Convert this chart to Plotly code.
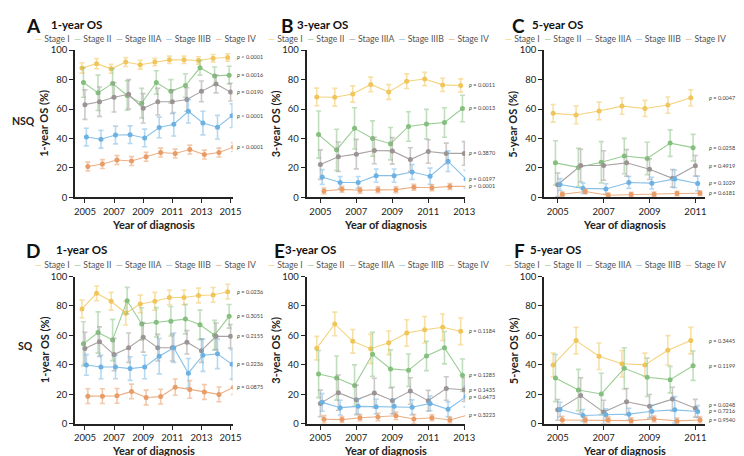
import plotly.graph_objects as go

W, H = 744, 456

stages = ["Stage I", "Stage II", "Stage IIIA", "Stage IIIB", "Stage IV"]
line_colors = ["#F5D27A", "#9ACD94", "#A9A3A3", "#86C0E8", "#EDAE82"]
marker_colors = ["#F0C65C", "#84BF7E", "#9C9494", "#6DB1E2", "#E89D69"]
err_colors = ["rgba(240,198,92,0.55)", "rgba(132,191,126,0.5)", "rgba(156,148,148,0.5)",
              "rgba(109,177,226,0.5)", "rgba(232,157,105,0.55)"]

years_1y = [2005, 2006, 2007, 2008, 2009, 2010, 2011, 2012, 2013, 2014, 2015]
years_3y = [2005, 2006, 2007, 2008, 2009, 2010, 2011, 2012, 2013]
years_5y = [2005, 2006, 2007, 2008, 2009, 2010, 2011]

# A: NSQ 1-year OS (%), one list per stage
os_a = [
    [87.9, 90.8, 87.3, 91.9, 90.1, 91.9, 93.4, 93.4, 93.0, 94.5, 95.0],
    [78.0, 71.0, 77.4, 69.2, 64.0, 78.0, 72.0, 76.0, 88.0, 82.5, 83.0],
    [63.0, 65.0, 68.0, 70.0, 60.5, 65.0, 65.0, 66.5, 72.0, 77.0, 71.5],
    [41.0, 39.5, 42.4, 42.6, 40.4, 47.5, 49.7, 58.5, 50.5, 47.7, 55.5],
    [21.0, 22.7, 25.4, 24.7, 27.6, 30.5, 29.8, 32.5, 29.1, 30.5, 34.2],
]
err_a = [
    [3.5, 3.5, 3, 3, 3, 2.5, 2.5, 2.5, 2.5, 2.5, 2.5],
    [10, 12, 10, 10, 10, 8, 8, 8, 5, 6, 6],
    [10, 10, 10, 10, 10, 9, 8, 8, 7, 6, 6],
    [6, 6, 6, 6, 6, 7, 8, 8, 8, 8, 8],
    [3, 3, 3, 3, 3, 3, 3, 3, 3, 3, 3],
]
p_a = ["< 0.0001", "= 0.0016", "= 0.0190", "< 0.0001", "< 0.0001"]

# B: NSQ 3-year OS (%)
os_b = [
    [68.2, 68.0, 70.2, 76.7, 71.6, 78.9, 80.4, 76.4, 76.0],
    [42.7, 32.3, 46.9, 40.0, 36.5, 48.2, 49.8, 50.9, 60.4],
    [22.3, 27.6, 29.4, 31.9, 31.6, 25.7, 31.2, 29.9, 29.9],
    [13.9, 10.2, 10.2, 14.8, 14.8, 17.3, 14.4, 24.6, 12.4],
    [4.4, 5.5, 4.9, 5.3, 5.3, 6.9, 6.6, 7.5, 7.5],
]
err_b = [
    [6, 6, 5.5, 5, 5, 5, 4.5, 4.5, 4.5],
    [16, 14, 14, 12, 11, 10, 10, 10, 9],
    [10, 10, 10, 9, 9, 8, 8, 7, 8],
    [5, 4, 4, 4.5, 4.5, 5, 5.5, 7, 6],
    [2, 2, 2, 2, 2, 2, 2, 2, 2],
]
p_b = ["= 0.0011", "= 0.0013", "= 0.3870", "= 0.0197", "< 0.0001"]

# C: NSQ 5-year OS (%)
os_c = [
    [57.1, 56.0, 58.7, 62.0, 60.4, 62.7, 67.6],
    [23.5, 20.4, 23.9, 28.1, 26.5, 36.9, 33.8],
    [8.6, 21.7, 21.7, 23.5, 19.2, 13.0, 21.5],
    [8.8, 6.2, 5.8, 10.2, 9.7, 12.6, 9.5],
    [2.2, 4.0, 1.5, 2.0, 2.2, 2.7, 2.9],
]
err_c = [
    [6, 6, 6, 5.5, 5.5, 5.5, 5.5],
    [15, 13, 14, 12, 11, 9, 9],
    [8, 11, 10, 9, 7, 6, 7],
    [4, 3.5, 3.5, 4, 4, 6, 5],
    [1.5, 1.5, 1.5, 1.5, 1.5, 1.5, 1.5],
]
p_c = ["= 0.0047", "= 0.0258", "= 0.4919", "= 0.1029", "= 0.6181"]

# D: SQ 1-year OS (%)
os_d = [
    [78.0, 88.6, 83.2, 75.1, 81.4, 83.2, 85.8, 85.8, 87.1, 87.5, 89.7],
    [54.3, 62.0, 56.9, 83.6, 67.8, 68.9, 69.6, 71.1, 67.2, 60.2, 73.0],
    [51.2, 55.8, 47.0, 51.7, 58.7, 51.7, 51.7, 55.4, 49.7, 59.4, 59.4],
    [40.0, 38.6, 38.6, 37.5, 38.6, 45.9, 51.7, 34.4, 46.6, 47.5, 40.4],
    [18.8, 18.8, 19.0, 22.0, 17.9, 18.5, 24.9, 23.4, 21.6, 20.0, 24.9],
]
err_d = [
    [6, 5, 6, 8, 6, 6, 5, 5, 5, 5, 5],
    [15, 14, 14, 9, 11, 10, 10, 10, 10, 10, 8],
    [11, 10, 11, 10, 10, 9, 9, 8, 8, 9, 8],
    [7, 8, 8, 8, 8, 12, 10, 10, 11, 10, 10],
    [5, 5, 5, 5, 5, 5, 5.5, 6, 5, 5, 5],
]
p_d = ["= 0.0236", "= 0.3051", "= 0.2155", "= 0.2236", "= 0.0875"]

# E: SQ 3-year OS (%)
os_e = [
    [51.4, 67.8, 56.0, 51.0, 55.0, 61.7, 63.9, 65.6, 62.8],
    [33.8, 31.1, 26.0, 47.2, 37.3, 36.4, 46.1, 51.7, 33.0],
    [13.9, 21.2, 16.3, 21.0, 15.9, 22.3, 15.7, 24.0, 23.2],
    [14.6, 11.0, 11.9, 11.7, 11.9, 11.3, 13.9, 9.9, 18.5],
    [3.1, 2.9, 4.2, 4.6, 5.5, 3.3, 4.2, 2.6, 6.0],
]
err_e = [
    [8, 8, 8, 10, 8, 9, 9, 9, 9],
    [16, 15, 14, 15, 13, 11, 10, 11, 11],
    [9, 12, 10, 10, 9, 9, 7, 8, 8],
    [6, 5, 5, 5, 5, 5, 5, 5, 7],
    [2.5, 2, 2, 2.5, 2.5, 3, 2, 2, 3],
]
p_e = ["= 0.1184", "= 0.1285", "= 0.1435", "= 0.6473", "= 0.3223"]

# F: SQ 5-year OS (%)
os_f = [
    [40.0, 56.5, 45.9, 40.8, 40.0, 49.9, 56.5],
    [31.1, 23.0, 20.3, 37.7, 31.6, 30.0, 39.5],
    [9.5, 19.2, 8.0, 15.0, 11.9, 16.8, 10.6],
    [9.7, 5.7, 6.2, 6.6, 8.6, 9.5, 8.4],
    [2.6, 2.6, 2.6, 2.2, 3.3, 2.0, 2.6],
]
err_f = [
    [8, 9, 9, 9, 8, 10, 9],
    [16, 14, 14, 14, 13, 9, 10],
    [7, 12, 8, 9, 8, 8, 6],
    [5, 4, 4, 4, 4, 9, 4],
    [2.5, 2, 2, 2, 2, 2, 2],
]
p_f = ["= 0.3445", "= 0.1199", "= 0.0248", "= 0.7216", "= 0.9540"]

panels = [
    dict(letter="A", title="1-year OS", years=years_1y, os=os_a, err=err_a, p=p_a),
    dict(letter="B", title="3-year OS", years=years_3y, os=os_b, err=err_b, p=p_b),
    dict(letter="C", title="5-year OS", years=years_5y, os=os_c, err=err_c, p=p_c),
    dict(letter="D", title="1-year OS", years=years_1y, os=os_d, err=err_d, p=p_d),
    dict(letter="E", title="3-year OS", years=years_3y, os=os_e, err=err_e, p=p_e),
    dict(letter="F", title="5-year OS", years=years_5y, os=os_f, err=err_f, p=p_f),
]

# layout in pixels: plot areas, x ranges, title/legend placement
col_px = [(67, 227), (302, 463), (543, 706)]
row_px = [(37, 188), (269, 420)]
x_ranges = [(2004.32, 2015.14), (2004.23, 2013.05), (2004.4, 2011.4)]
letter_x = [15, 274, 509, 15, 267, 511]
sub_x = [41, 290, 529, 46, 278, 527]
legend_x = [24, 261, 501]
title_y = [12, 242]
legend_y = [25, 257]
dodge = [-0.2, -0.1, 0.0, 0.1, 0.2]

FONT = "Lato, 'Open Sans', sans-serif"
DARK = "#222222"


def px(x):
    return x / W


def py(y):
    return 1 - y / H


fig = go.Figure()
annotations = []

for i, pan in enumerate(panels):
    n = i + 1
    r, c = divmod(i, 3)
    xa = "x" if n == 1 else f"x{n}"
    ya = "y" if n == 1 else f"y{n}"
    for k in range(5):
        xs = [yr + dodge[k] for yr in pan["years"]]
        fig.add_trace(go.Scatter(
            x=xs, y=pan["os"][k], xaxis=xa, yaxis=ya, name=stages[k],
            mode="lines+markers", showlegend=False,
            line=dict(color=line_colors[k], width=1.1),
            marker=dict(color=marker_colors[k], size=5),
            error_y=dict(type="data", array=pan["err"][k], color=err_colors[k],
                         thickness=1.6, width=2.5),
        ))

    axis_style = dict(showline=True, linecolor=DARK, linewidth=1.6, ticks="outside",
                      ticklen=4, tickwidth=1.3, tickcolor=DARK, showgrid=False,
                      zeroline=False, tickfont=dict(family=FONT, size=9.5, color=DARK))
    fig.update_layout({
        ("xaxis" if n == 1 else f"xaxis{n}"): dict(
            domain=[px(col_px[c][0]), px(col_px[c][1])], range=list(x_ranges[c]),
            tickvals=pan["years"][::2], anchor=ya, **axis_style),
        ("yaxis" if n == 1 else f"yaxis{n}"): dict(
            domain=[py(row_px[r][1]), py(row_px[r][0])], range=[0, 100],
            tickvals=[0, 20, 40, 60, 80, 100], anchor=xa, **axis_style),
    })

    # panel letter and subtitle
    annotations.append(dict(x=px(letter_x[i]), y=py(title_y[r]), xref="paper", yref="paper",
                            text=f"<b>{pan['letter']}</b>", showarrow=False, xanchor="left",
                            yanchor="middle", font=dict(family=FONT, size=19, color="#111")))
    annotations.append(dict(x=px(sub_x[i]), y=py(title_y[r] - 1), xref="paper", yref="paper",
                            text=f"<b>{pan['title']}</b>", showarrow=False, xanchor="left",
                            yanchor="middle", font=dict(family=FONT, size=11.5, color="#111")))

    # legend row as text
    parts = [f"<span style='color:{line_colors[k]}'>—</span> {stages[k]}" for k in range(5)]
    annotations.append(dict(x=px(legend_x[c]), y=py(legend_y[r]), xref="paper", yref="paper",
                            text="\u00a0 ".join(parts), showarrow=False, xanchor="left",
                            yanchor="middle", font=dict(family=FONT, size=8.7, color="#555")))

    # axis titles
    annotations.append(dict(x=0, y=0.5, xref=f"{xa} domain", yref=f"{ya} domain",
                            text=f"<b>{pan['title']} (%)</b>", textangle=-90, showarrow=False,
                            xanchor="center", yanchor="middle", xshift=-31,
                            font=dict(family=FONT, size=11, color=DARK)))
    annotations.append(dict(x=0.5, y=0, xref=f"{xa} domain", yref=f"{ya} domain",
                            text="<b>Year of diagnosis</b>", showarrow=False,
                            xanchor="center", yanchor="middle", yshift=-27,
                            font=dict(family=FONT, size=11, color=DARK)))

    # p-values next to the last point, pushed apart when too close
    order = sorted(range(5), key=lambda k: pan["os"][k][-1])
    prev = -100
    for k in order:
        yv = max(pan["os"][k][-1], prev + 4.6)
        prev = yv
        annotations.append(dict(x=1, y=yv, xref=f"{xa} domain", yref=ya,
                                text=f"<i>p</i> {pan['p'][k]}", showarrow=False,
                                xanchor="left", yanchor="middle", xshift=2,
                                font=dict(family=FONT, size=5.5, color="#444")))

annotations.append(dict(x=px(1), y=py(110), xref="paper", yref="paper", text="<b>NSQ</b>",
                        showarrow=False, xanchor="left", yanchor="middle",
                        font=dict(family=FONT, size=10.5, color=DARK)))
annotations.append(dict(x=px(7), y=py(340), xref="paper", yref="paper", text="<b>SQ</b>",
                        showarrow=False, xanchor="left", yanchor="middle",
                        font=dict(family=FONT, size=10.5, color=DARK)))

fig.update_layout(
    width=W, height=H,
    margin=dict(l=0, r=0, t=0, b=0),
    paper_bgcolor="white", plot_bgcolor="white",
    font=dict(family=FONT),
    annotations=annotations,
)

fig.write_html("out.html")
